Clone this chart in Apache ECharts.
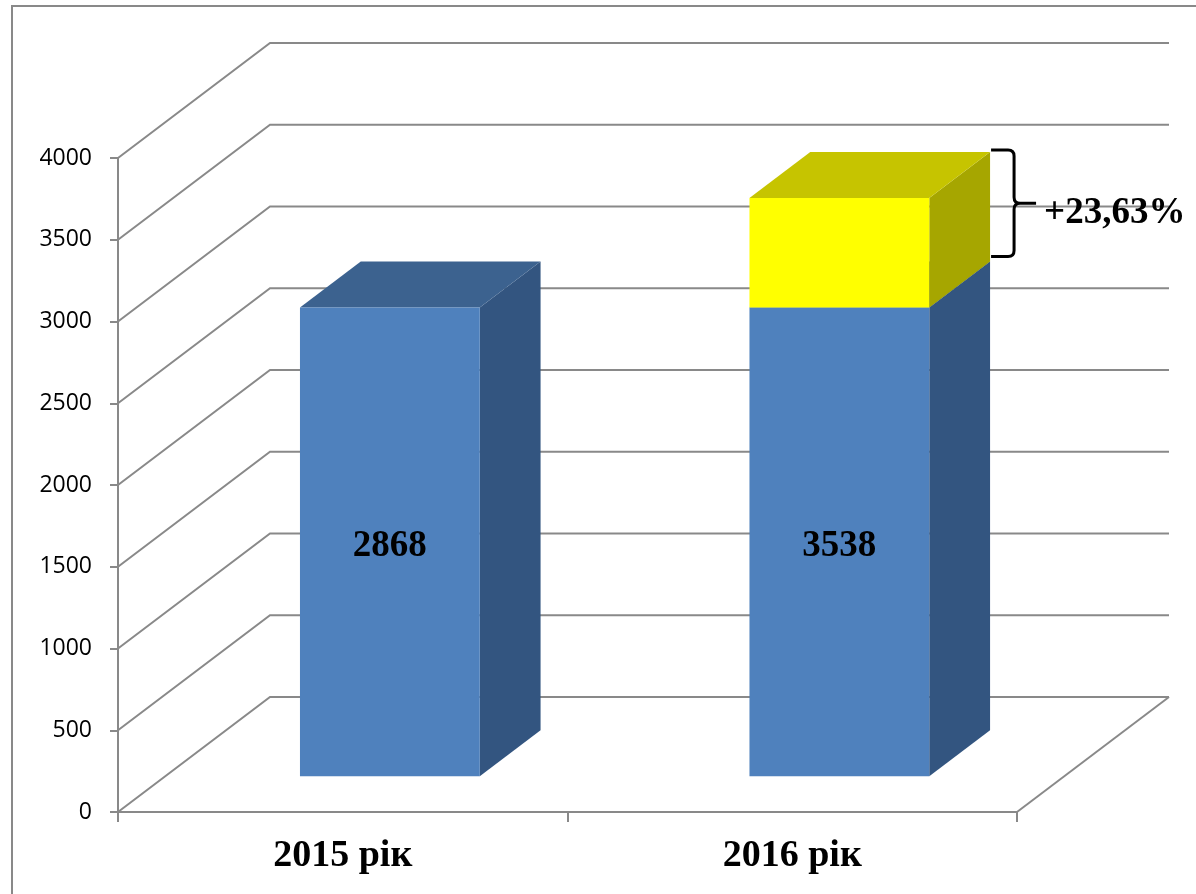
<!DOCTYPE html>
<html>
<head>
<meta charset="utf-8">
<script src="https://cdn.jsdelivr.net/npm/echarts@6/dist/echarts.min.js"></script>
<style>
  html, body { margin: 0; padding: 0; background: #fff; }
  #chart { width: 1196px; height: 894px; }
</style>
</head>
<body>
<div id="chart"></div>
<script>
var categories = ['2015 рік', '2016 рік'];
var baseValues = [2868, 2868];     // синя частина
var growthValues = [0, 670];       // жовта частина (приріст)
var totalLabels = ['2868', '3538'];
var growthLabel = '+23,63%';
var yTicks = [0, 500, 1000, 1500, 2000, 2500, 3000, 3500, 4000];

// зсув "глибини" псевдо-3D
var DX = 152, DY = -115;
var D0 = 0.31, D1 = 0.71;
var gridColor = '#898989';

var chart = echarts.init(document.getElementById('chart'));

function boxFaces(api, colors) {
  var c = api.value(0), lo = api.value(1), hi = api.value(2);
  if (hi <= lo) return null;
  var w = api.size([1, 0])[0] * 0.4;
  var pLo = api.coord([c, lo]), pHi = api.coord([c, hi]);
  var x0 = pLo[0] - w / 2 + D0 * DX, x1 = x0 + w;
  var yb = pLo[1] + D0 * DY, yt = pHi[1] + D0 * DY;
  var ddx = (D1 - D0) * DX, ddy = (D1 - D0) * DY;
  return {
    x0: x0, x1: x1, yb: yb, yt: yt, ddx: ddx, ddy: ddy,
    children: [
      { type: 'polygon', shape: { points: [[x1, yb], [x1 + ddx, yb + ddy], [x1 + ddx, yt + ddy], [x1, yt]] },
        style: { fill: colors[1] } },
      { type: 'polygon', shape: { points: [[x0, yt], [x1, yt], [x1 + ddx, yt + ddy], [x0 + ddx, yt + ddy]] },
        style: { fill: colors[2] } },
      { type: 'rect', shape: { x: x0, y: yt, width: w, height: yb - yt },
        style: { fill: colors[0] } }
    ]
  };
}

var option = {
  animation: false,
  grid: { left: 118, right: 179, top: 158, bottom: 82 },
  xAxis: {
    type: 'category',
    data: categories,
    axisLine: { lineStyle: { color: gridColor, width: 2 } },
    axisTick: { show: true, length: 10, lineStyle: { color: gridColor, width: 2 } },
    axisLabel: {
      color: '#000', fontFamily: 'Liberation Serif', fontWeight: 'bold', fontSize: 38, margin: 25
    }
  },
  yAxis: {
    type: 'value',
    min: 0, max: 4000, interval: 500,
    axisLine: { show: true, lineStyle: { color: gridColor, width: 2 } },
    axisTick: { show: true, length: 8, lineStyle: { color: gridColor, width: 2 } },
    axisLabel: {
      color: '#000', fontFamily: 'Open Sans', fontSize: 23, margin: 26,
      formatter: function (v) { return String(v); }
    },
    splitLine: { show: false }
  },
  graphic: [{
    type: 'rect', shape: { x: 12, y: 6, width: 1300, height: 1000 },
    style: { fill: 'none', stroke: gridColor, lineWidth: 2 }, z: -10
  }],
  series: [
    {
      // бічна та задня стінки, дно
      type: 'custom',
      z: 1,
      data: yTicks.map(function (v) { return [0, v]; }),
      encode: { x: 0, y: 1 },
      renderItem: function (params, api) {
        var cs = params.coordSys;
        var y = api.coord([0, api.value(1)])[1];
        var left = cs.x, right = cs.x + cs.width;
        var kids = [{
          type: 'polyline',
          shape: { points: [[left, y], [left + DX, y + DY], [right + DX, y + DY]] },
          style: { fill: 'none', stroke: gridColor, lineWidth: 2 }
        }];
        if (api.value(1) === 0) {
          kids.push({
            type: 'line',
            shape: { x1: right, y1: y, x2: right + DX, y2: y + DY },
            style: { stroke: gridColor, lineWidth: 2 }
          });
        }
        return { type: 'group', children: kids };
      }
    },
    {
      type: 'custom',
      z: 2,
      data: categories.map(function (c, i) { return [i, 0, baseValues[i]]; }),
      encode: { x: 0, y: [1, 2] },
      renderItem: function (params, api) {
        var b = boxFaces(api, ['#4F81BD', '#335580', '#3C628F']);
        if (!b) return null;
        b.children.push({
          type: 'text',
          style: {
            text: totalLabels[params.dataIndex],
            x: (b.x0 + b.x1) / 2, y: (b.yt + b.yb) / 2 + 5,
            align: 'center', verticalAlign: 'middle',
            font: 'bold 37px "Liberation Serif"', fill: '#000'
          }
        });
        return { type: 'group', children: b.children };
      }
    },
    {
      type: 'custom',
      z: 3,
      data: categories.map(function (c, i) { return [i, baseValues[i], baseValues[i] + growthValues[i]]; }),
      encode: { x: 0, y: [1, 2] },
      renderItem: function (params, api) {
        var b = boxFaces(api, ['#FFFF00', '#A6A600', '#C6C400']);
        if (!b) return null;
        var bx = b.x1 + b.ddx + 1;
        var top = b.yt + b.ddy - 2, bot = b.yb + b.ddy - 5;
        var mid = (top + bot) / 2;
        var vx = bx + 23;
        var path = 'M' + bx + ' ' + top + ' L' + (vx - 6) + ' ' + top +
          ' Q' + vx + ' ' + top + ' ' + vx + ' ' + (top + 6) +
          ' L' + vx + ' ' + (mid - 6) +
          ' Q' + vx + ' ' + mid + ' ' + (vx + 6) + ' ' + mid +
          ' L' + (vx + 22) + ' ' + mid +
          ' M' + (vx + 6) + ' ' + mid +
          ' Q' + vx + ' ' + mid + ' ' + vx + ' ' + (mid + 6) +
          ' L' + vx + ' ' + (bot - 6) +
          ' Q' + vx + ' ' + bot + ' ' + (vx - 6) + ' ' + bot +
          ' L' + bx + ' ' + bot;
        b.children.push({
          type: 'path', shape: { pathData: path },
          style: { fill: 'none', stroke: '#000', lineWidth: 3 }
        });
        b.children.push({
          type: 'text',
          style: {
            text: growthLabel, x: vx + 30, y: mid + 10,
            align: 'left', verticalAlign: 'middle',
            font: 'bold 37px "Liberation Serif"', fill: '#000'
          }
        });
        return { type: 'group', children: b.children };
      }
    }
  ]
};

chart.setOption(option);
</script>
</body>
</html>
